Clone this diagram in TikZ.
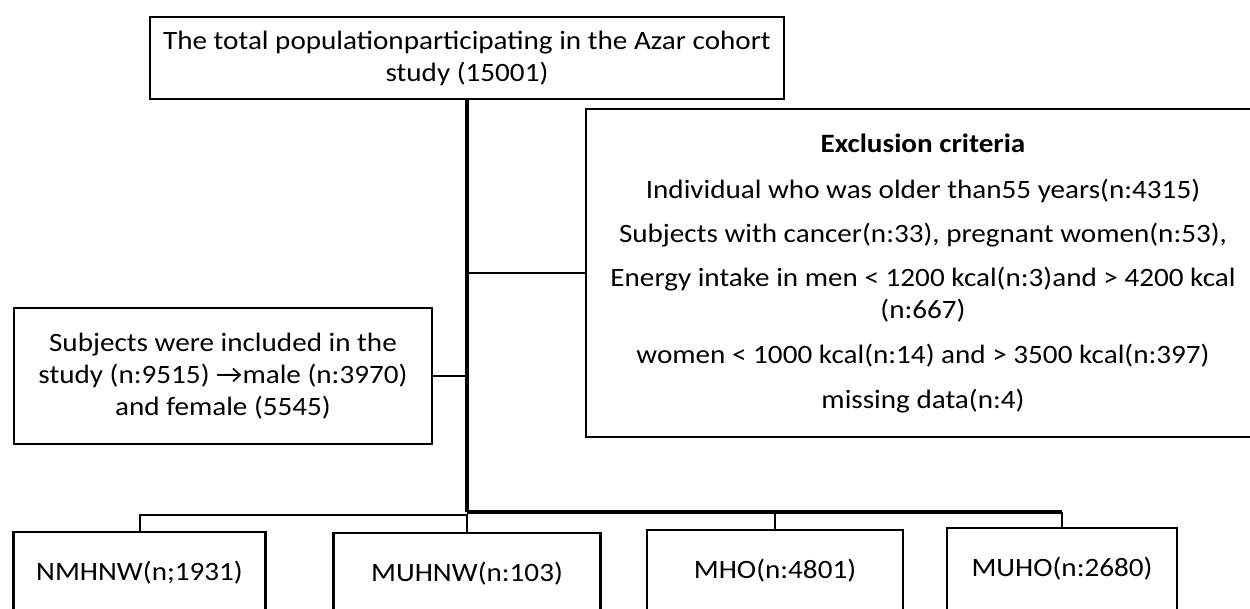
\documentclass[tikz,border=0pt]{standalone}
\usepackage{fontspec}
\setmainfont{Carlito}[FakeStretch=1.1]
\begin{document}
\begin{tikzpicture}[x=1pt,y=-1pt,
  box/.style={draw, line width=2.2pt, inner sep=0pt, align=center, font=\fontsize{26.5}{32}\selectfont},
  trunk/.style={line width=3.5pt},
  link/.style={line width=2.5pt},
  stem/.style={line width=2pt}]
\useasboundingbox (0,0) rectangle (1250,608);
\node[box, minimum width=634pt, minimum height=82pt] (top) at (467,58)
  {The total populationparticipating in the Azar cohort\\study (15001)};
\node[box, minimum width=674pt, minimum height=328pt] (excl) at (923,273)
  {\textbf{Exclusion criteria}\\[14pt]
   Individual who was older than55 years(n:4315)\\[12pt]
   Subjects with cancer(n:33), pregnant women(n:53),\\[12pt]
   Energy intake in men < 1200 kcal(n:3)and > 4200 kcal\\
   (n:667)\\[13pt]
   women < 1000 kcal(n:14) and > 3500 kcal(n:397)\\[13pt]
   missing data(n:4)};
\node[box, minimum width=418pt, minimum height=136pt] (inc) at (223,376)
  {Subjects were included in the\\study (n:9515) →male (n:3970)\\and female (5545)};
\node[box, minimum width=252pt, minimum height=82pt] (b1) at (139.5,573) {NMHNW(n;1931)};
\node[box, minimum width=267pt, minimum height=82pt] (b2) at (467,574) {MUHNW(n:103)};
\node[box, minimum width=256pt, minimum height=82pt] (b3) at (775,571) {MHO(n:4801)};
\node[box, minimum width=230pt, minimum height=82pt] (b4) at (1062,569) {MUHO(n:2680)};
\coordinate (j) at (467,512);
\coordinate (jl) at (467,515);
\draw[trunk] (top.south) -- (j);
\draw[link] (top.south |- excl.west) -- (excl.west);
\draw[link] (inc.east) -- (inc.east -| top.south);
\draw[trunk] (j) -- (j -| b4.north);
\draw[stem] (j -| b4.north) -- (b4.north);
\draw[stem] (j -| b3.north) -- (b3.north);
\draw[stem] (b1.north) |- (jl) -- (b2.north);
\end{tikzpicture}
\end{document}
